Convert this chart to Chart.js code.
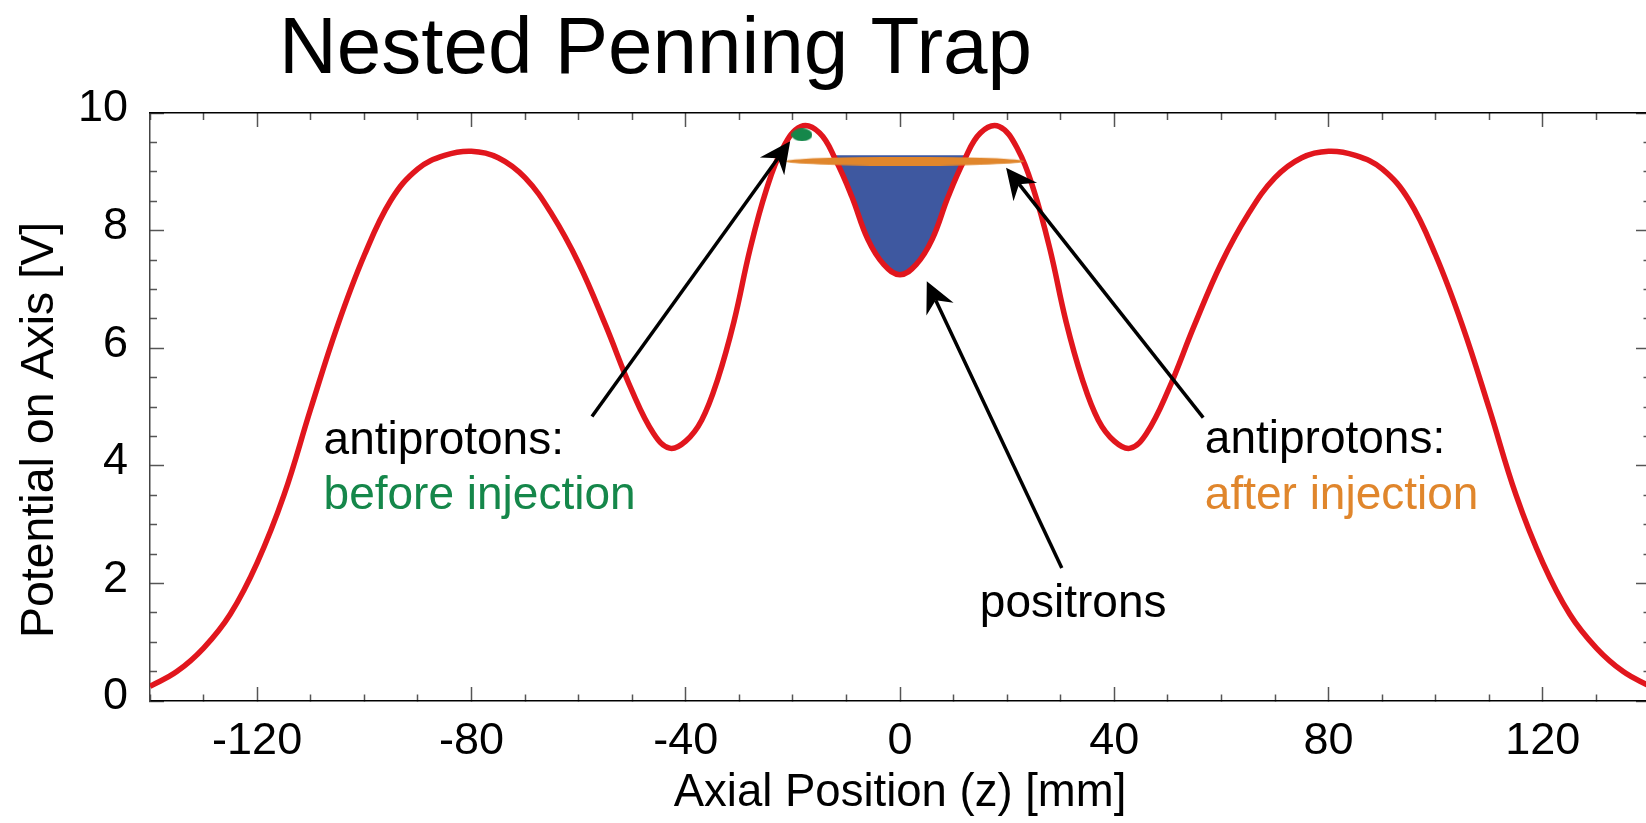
<!DOCTYPE html>
<html>
<head>
<meta charset="utf-8">
<title>Nested Penning Trap</title>
<script src="https://cdn.jsdelivr.net/npm/chart.js@4.4.1/dist/chart.umd.min.js"></script>
<style>
  html, body { margin: 0; padding: 0; background: #fff; overflow: hidden; }
  #wrap { width: 1646px; height: 823px; overflow: hidden; position: relative; }
  canvas { display: block; }
</style>
</head>
<body>
<div id="wrap"><canvas id="trap" width="1700" height="823"></canvas></div>
<script>
// On-axis potential of the nested trap (z in mm, potential in V)
const zPos = [-140,-135,-130,-125,-120,-115,-110,-105,-100,-95,-90,-85,-80,-75,-70,-65,-60,-55,-50,-46,-43,-40,-37,-34,-31,-28,-25,-22,-18.5,-15,-12,-9,-6,-3,0,
              3,6,9,12,15,18.5,22,25,28,31,34,37,40,43,46,50,55,60,65,70,75,80,85,90,95,100,105,110,115,120,125,130,135,140];
const potential = [0.25,0.50,0.90,1.48,2.35,3.50,4.97,6.38,7.58,8.52,9.05,9.28,9.35,9.24,8.90,8.28,7.45,6.40,5.27,4.55,4.30,4.42,4.78,5.48,6.45,7.68,8.68,9.38,9.77,9.66,9.20,8.58,7.85,7.42,7.25,
                   7.42,7.85,8.58,9.20,9.66,9.77,9.38,8.68,7.68,6.45,5.48,4.78,4.42,4.30,4.55,5.27,6.40,7.45,8.28,8.90,9.24,9.35,9.28,9.05,8.52,7.58,6.38,4.97,3.50,2.35,1.48,0.90,0.50,0.25];

// Positron cloud filling the central well up to its top level
const positronZ = [-12.5,-12,-9,-6,-3,0,3,6,9,12,12.5];
const positronV = [9.28,9.20,8.58,7.85,7.42,7.25,7.42,7.85,8.58,9.20,9.28];
const positronTop = 9.28;

// Antiproton clouds
const beforeZ = [-18.3];
const beforeV = [9.63];
const afterZ = [0.9];
const afterV = [9.18];

// Labelled ticks
const xTickLabels = [-120, -80, -40, 0, 40, 80, 120];
const yTickLabels = [0, 2, 4, 6, 8, 10];

const FONT = "'Liberation Sans', Arial, Helvetica, sans-serif";
const RED = '#e1161d', BLUE = '#3e58a0', GREEN = '#15874a', ORANGE = '#e0862c';

// Callouts: arrows (data coordinates) and text notes
const arrows = [
  { from: [-57.5, 4.84], to: [-20.5, 9.52] },
  { from: [30.2, 2.26],  to: [5.0, 7.14] },
  { from: [56.6, 4.82],  to: [19.8, 9.07] }
];
const notes = [
  { text: 'antiprotons:',     at: [-107.6, 4.20], color: '#000' },
  { text: 'before injection', at: [-107.6, 3.26], color: GREEN },
  { text: 'positrons',        at: [14.9, 1.43],   color: '#000' },
  { text: 'antiprotons:',     at: [56.9, 4.21],   color: '#000' },
  { text: 'after injection',  at: [56.9, 3.27],   color: ORANGE }
];

function zip(xs, ys) { return xs.map((x, i) => ({ x: x, y: ys[i] })); }

function ovalMark(w, h, color) {
  const c = document.createElement('canvas');
  c.width = w; c.height = h;
  const g = c.getContext('2d');
  g.fillStyle = color;
  g.beginPath();
  g.ellipse(w / 2, h / 2, w / 2, h / 2, 0, 0, Math.PI * 2);
  g.fill();
  return c;
}

function drawArrow(ctx, x0, y0, x1, y1) {
  const dx = x1 - x0, dy = y1 - y0, len = Math.hypot(dx, dy);
  const ux = dx / len, uy = dy / len, nx = -uy, ny = ux;
  const L = 31, W = 15, N = 21;
  ctx.strokeStyle = '#000';
  ctx.lineWidth = 3.5;
  ctx.lineCap = 'butt';
  ctx.beginPath();
  ctx.moveTo(x0, y0);
  ctx.lineTo(x1 - ux * N, y1 - uy * N);
  ctx.stroke();
  ctx.fillStyle = '#000';
  ctx.beginPath();
  ctx.moveTo(x1, y1);
  ctx.lineTo(x1 - ux * L + nx * W, y1 - uy * L + ny * W);
  ctx.lineTo(x1 - ux * N, y1 - uy * N);
  ctx.lineTo(x1 - ux * L - nx * W, y1 - uy * L - ny * W);
  ctx.closePath();
  ctx.fill();
}

const overlay = {
  id: 'overlay',
  afterDraw(chart) {
    const ctx = chart.ctx;
    const xs = chart.scales.x, ys = chart.scales.y;
    const px = v => xs.getPixelForValue(v), py = v => ys.getPixelForValue(v);
    ctx.save();
    arrows.forEach(a => drawArrow(ctx, px(a.from[0]), py(a.from[1]), px(a.to[0]), py(a.to[1])));
    ctx.font = '46px ' + FONT;
    ctx.textAlign = 'left';
    ctx.textBaseline = 'alphabetic';
    notes.forEach(n => { ctx.fillStyle = n.color; ctx.fillText(n.text, px(n.at[0]), py(n.at[1])); });

    // chart title
    ctx.fillStyle = '#000';
    ctx.font = '80px ' + FONT;
    ctx.fillText('Nested Penning Trap', 279, 73);

    // y axis title
    ctx.translate(40, 430);
    ctx.rotate(-Math.PI / 2);
    ctx.textAlign = 'center';
    ctx.textBaseline = 'middle';
    ctx.font = '46.5px ' + FONT;
    ctx.fillText('Potential on Axis [V]', 0, 0);
    ctx.restore();
  }
};

const isMajorX = v => Math.abs(v % 40) < 1e-9;
const isMajorY = v => Math.abs(v % 2) < 1e-9;
const DASH_OUT = [7, 100];          // minor tick starting at the axis line
const DASH_IN = [0, 7, 7.5, 100];   // minor tick when the stroke starts inside the plot

Chart.defaults.font.family = FONT;

new Chart(document.getElementById('trap'), {
  type: 'line',
  data: {
    datasets: [
      {
        label: 'potential',
        data: zip(zPos, potential),
        borderColor: RED,
        borderWidth: 5.5,
        pointRadius: 0,
        tension: 0.4,
        fill: false,
        order: 1
      },
      {
        label: 'positrons',
        data: zip(positronZ, positronV),
        borderWidth: 0,
        borderColor: BLUE,
        backgroundColor: BLUE,
        pointRadius: 0,
        tension: 0.4,
        fill: { value: positronTop },
        order: 2
      },
      {
        label: 'antiprotons before injection',
        data: zip(beforeZ, beforeV),
        showLine: false,
        pointRadius: 5,
        pointStyle: ovalMark(21, 13, GREEN),
        order: 0
      },
      {
        label: 'antiprotons after injection',
        data: zip(afterZ, afterV),
        showLine: false,
        pointRadius: 5,
        pointStyle: ovalMark(238, 9, ORANGE),
        order: 0
      }
    ]
  },
  options: {
    responsive: false,
    devicePixelRatio: 1,
    animation: false,
    events: [],
    layout: { padding: { top: 113, right: 50, bottom: 0, left: 0 } },
    plugins: { legend: { display: false }, tooltip: { enabled: false }, title: { display: false } },
    scales: {
      x: {
        type: 'linear', position: 'bottom', min: -140, max: 140,
        afterFit: s => { s.height = 122; },
        border: { display: true, color: '#000', width: 1.5 },
        grid: {
          drawOnChartArea: false, drawTicks: true, tickLength: -14,
          tickColor: '#555', tickWidth: 1.5,
          tickBorderDash: c => isMajorX(c.tick.value) ? [] : DASH_OUT
        },
        ticks: {
          stepSize: 10, autoSkip: false, maxRotation: 0, padding: 28,
          color: '#000', font: { size: 45 },
          callback: v => xTickLabels.includes(v) ? String(v) : ''
        },
        title: {
          display: true, text: 'Axial Position (z) [mm]', color: '#000',
          font: { size: 45.5 }, padding: { top: 0, bottom: 2 }
        }
      },
      y: {
        type: 'linear', position: 'left', min: 0, max: 10,
        afterFit: s => { s.width = 150; },
        border: { display: true, color: '#444', width: 1.5 },
        grid: {
          drawOnChartArea: false, drawTicks: true, tickLength: -14,
          tickColor: '#555', tickWidth: 1.5,
          tickBorderDash: c => isMajorY(c.tick.value) ? [] : DASH_IN
        },
        ticks: {
          stepSize: 0.5, autoSkip: false, padding: 36, labelOffset: -4,
          color: '#000', font: { size: 45 },
          callback: v => yTickLabels.includes(v) ? String(v) : ''
        }
      },
      xTop: {
        type: 'linear', position: 'top', min: -140, max: 140,
        afterFit: s => { s.height = 0; },
        border: { display: true, color: '#000', width: 1.5 },
        grid: {
          drawOnChartArea: false, drawTicks: true, tickLength: -14,
          tickColor: '#555', tickWidth: 1.5,
          tickBorderDash: c => isMajorX(c.tick.value) ? [] : DASH_IN
        },
        ticks: { display: false, stepSize: 10, autoSkip: false }
      },
      yRight: {
        type: 'linear', position: 'right', min: 0, max: 10,
        afterFit: s => { s.width = 0; },
        border: { display: true, color: '#000', width: 1.5 },
        grid: {
          drawOnChartArea: false, drawTicks: true, tickLength: -14,
          tickColor: '#555', tickWidth: 1.5,
          tickBorderDash: c => isMajorY(c.tick.value) ? [] : DASH_OUT
        },
        ticks: { display: false, stepSize: 0.5, autoSkip: false }
      }
    }
  },
  plugins: [overlay]
});
</script>
</body>
</html>
